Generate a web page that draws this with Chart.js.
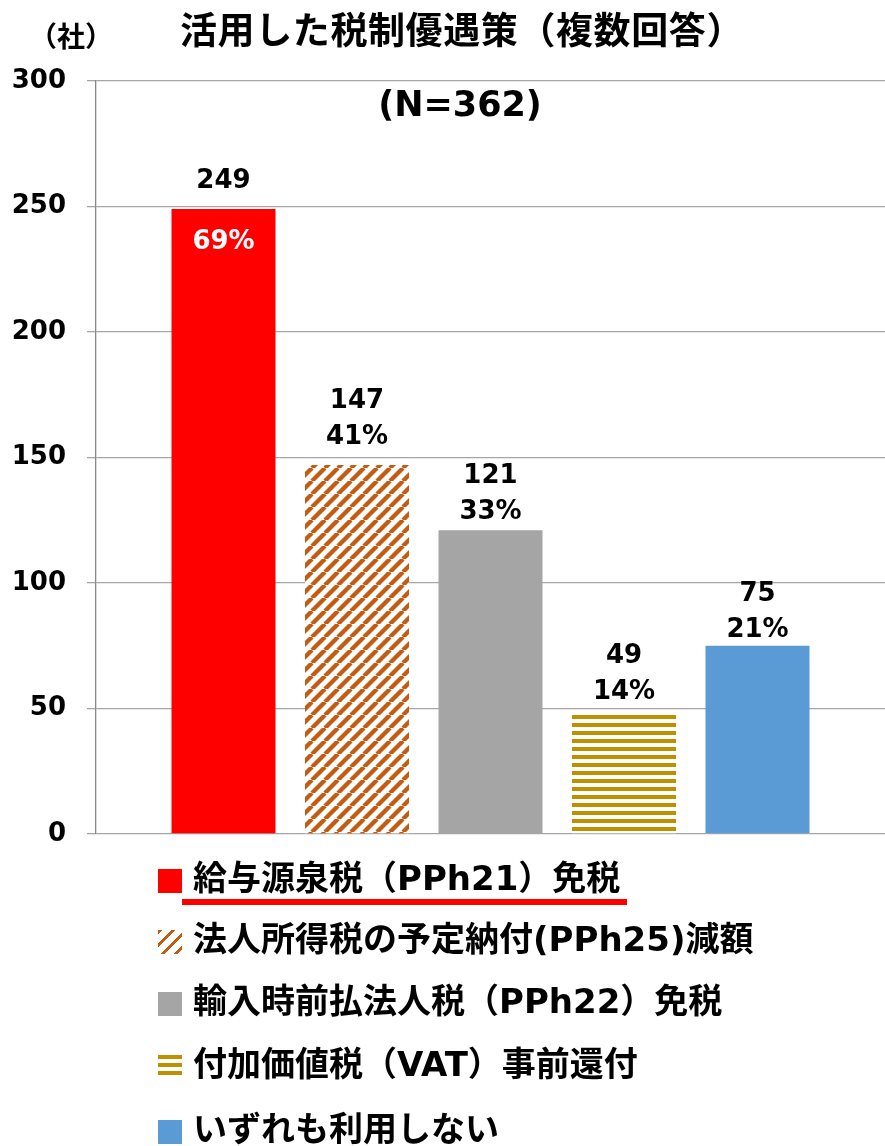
<!DOCTYPE html>
<html><head><meta charset="utf-8">
<script src="https://cdn.jsdelivr.net/npm/chart.js@4.4.0/dist/chart.umd.min.js"></script>
<style>
html,body{margin:0;padding:0;background:#fff;}
#wrap{position:relative;width:885px;height:1146px;overflow:hidden;background:#fff;}
#c{position:absolute;left:0;top:0;}
.t{position:absolute;white-space:nowrap;font-weight:bold;color:#000;line-height:1;font-family:'DejaVu Sans','Noto Sans CJK JP',sans-serif;z-index:2;}
.box{position:absolute;width:24px;height:24px;z-index:2;}
#uline{position:absolute;left:182px;top:899px;width:445px;height:6px;background:#FF0000;z-index:2;}
</style>
</head><body>
<div id="wrap">
<canvas id="c" width="885" height="1146"></canvas>
<div class="t" id="unit" style="left:29px;top:24px;font-size:28px;">（社）</div>
<div class="t" id="title" style="left:180px;top:13px;font-size:37px;letter-spacing:0.6px;">活用した税制優遇策（複数回答）</div>
<div class="t" id="nlabel" style="left:460px;top:87px;font-size:35px;transform:translateX(-50%);">(N=362)</div>
<div id="legend"></div>
<div id="uline"></div>
</div>
<script>
// ---- data ----
const seriesNames = [
  '給与源泉税（PPh21）免税',
  '法人所得税の予定納付(PPh25)減額',
  '輸入時前払法人税（PPh22）免税',
  '付加価値税（VAT）事前還付',
  'いずれも利用しない'
];
const counts = [249, 147, 121, 49, 75];
const percents = ['69%', '41%', '33%', '14%', '21%'];
const yTicks = [0, 50, 100, 150, 200, 250, 300];

// ---- styles ----
const ORANGE = '#C55A11', GOLD = '#BF9000';
const labelLift = [0, 28, 18, 19, 16];
const legendCenters = [880, 941, 1003, 1066, 1131];

const canvas = document.getElementById('c');
const ctx = canvas.getContext('2d');

function hatchPattern() {
  const s = 13;
  const c = document.createElement('canvas'); c.width = s; c.height = s;
  const g = c.getContext('2d');
  g.fillStyle = '#fff'; g.fillRect(0, 0, s, s);
  g.strokeStyle = ORANGE; g.lineWidth = 4.3;
  g.beginPath();
  [-s, 0, s].forEach(k => { g.moveTo(k, s); g.lineTo(k + s, 0); });
  g.stroke();
  return ctx.createPattern(c, 'repeat');
}
function stripePattern() {
  const c = document.createElement('canvas'); c.width = 8; c.height = 8;
  const g = c.getContext('2d');
  g.fillStyle = '#fff'; g.fillRect(0, 0, 8, 8);
  g.fillStyle = GOLD; g.fillRect(0, 3, 8, 4);
  return ctx.createPattern(c, 'repeat');
}
const fills = ['#FF0000', hatchPattern(), '#A5A5A5', stripePattern(), '#5B9BD5'];
const legendCss = [
  'background:#FF0000',
  'background:repeating-linear-gradient(135deg,' + ORANGE + ' 0 3px,#fff 3px 9.2px)',
  'background:#A5A5A5',
  'background:repeating-linear-gradient(180deg,' + GOLD + ' 0 4px,#fff 4px 8px)',
  'background:#5B9BD5'
];

// legend (HTML)
const lg = document.getElementById('legend');
seriesNames.forEach((n, i) => {
  const cy = legendCenters[i];
  const b = document.createElement('div');
  b.className = 'box'; b.style.cssText = 'left:158px;top:' + (cy - 11) + 'px;' + legendCss[i];
  lg.appendChild(b);
  const t = document.createElement('div');
  t.className = 't'; t.textContent = n;
  t.style.cssText = 'left:193px;top:' + (cy - 19) + 'px;font-size:34px;';
  lg.appendChild(t);
});

const FONT = "'DejaVu Sans','Noto Sans CJK JP',sans-serif";

const labelPlugin = {
  id: 'barLabels',
  afterDatasetsDraw(chart) {
    const c = chart.ctx;
    c.save();
    c.font = 'bold 26px ' + FONT;
    c.textAlign = 'center';
    c.textBaseline = 'middle';
    chart.data.datasets.forEach((ds, i) => {
      const el = chart.getDatasetMeta(i).data[0];
      const x = el.x, y = el.y;
      if (i === 0) {
        c.fillStyle = '#000';
        c.fillText(String(counts[i]), x, y - 28);
        c.fillStyle = '#fff';
        c.fillText(percents[i], x, y + 33);
      } else {
        c.fillStyle = '#000';
        c.fillText(percents[i], x, y - labelLift[i]);
        c.fillText(String(counts[i]), x, y - labelLift[i] - 36);
      }
    });
    c.restore();
  }
};

new Chart(ctx, {
  type: 'bar',
  data: {
    labels: [''],
    datasets: seriesNames.map((n, i) => ({
      label: n,
      data: [counts[i]],
      backgroundColor: fills[i],
      borderWidth: 0,
      categoryPercentage: 0.846,
      barPercentage: 0.779
    }))
  },
  options: {
    responsive: false,
    animation: false,
    devicePixelRatio: 1,
    layout: { padding: { top: 81, right: 0, bottom: 312, left: 0 } },
    plugins: { legend: { display: false }, title: { display: false }, tooltip: { enabled: false } },
    scales: {
      x: { display: false },
      y: {
        min: 0, max: 300,
        afterBuildTicks(s) { s.ticks = yTicks.map(v => ({ value: v })); },
        afterFit(s) { s.width = 96; },
        ticks: { padding: 21, color: '#000', font: { family: FONT, size: 26, weight: 'bold' } },
        grid: { color: '#A6A6A6', lineWidth: 1.3, tickLength: 9 },
        border: { color: '#888888', width: 1.3 }
      }
    }
  },
  plugins: [labelPlugin]
});
</script>
</body></html>
